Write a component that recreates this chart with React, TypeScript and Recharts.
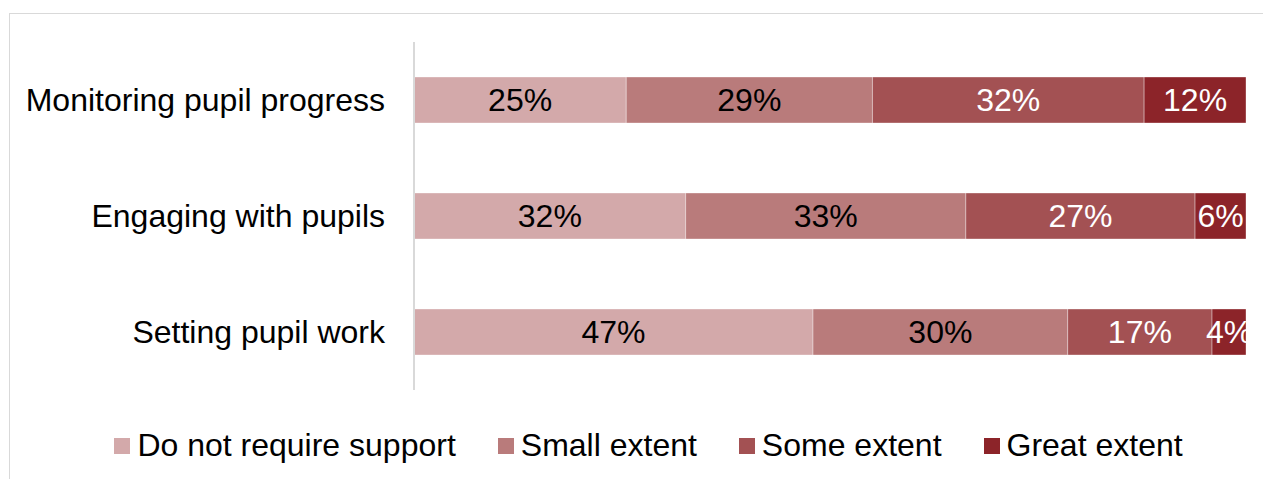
import React from "react";
import { BarChart, Bar, XAxis, YAxis, LabelList } from "recharts";

const categories = ["Monitoring pupil progress", "Engaging with pupils", "Setting pupil work"];
const doNotRequire = [25, 32, 47];
const smallExtent = [29, 33, 30];
const someExtent = [32, 27, 17];
const greatExtent = [12, 6, 4];

const series = [
  { key: "none", name: "Do not require support", color: "#D3A9AA", text: "#000000", values: doNotRequire },
  { key: "small", name: "Small extent", color: "#B97B7B", text: "#000000", values: smallExtent },
  { key: "some", name: "Some extent", color: "#A35153", text: "#FFFFFF", values: someExtent },
  { key: "great", name: "Great extent", color: "#8C2429", text: "#FFFFFF", values: greatExtent },
];

const data = categories.map((name, i) => {
  const row: Record<string, string | number> = { name };
  series.forEach((s) => (row[s.key] = s.values[i]));
  return row;
});

const FONT = "'Liberation Sans', Arial, sans-serif";

function LegendBox() {
  return (
    <div style={{ display: "flex", justifyContent: "center", alignItems: "center", fontFamily: FONT, fontSize: 32, color: "#000", paddingLeft: 34 }}>
      {series.map((s) => (
        <div key={s.key} style={{ display: "flex", alignItems: "center", margin: "0 21px" }}>
          <span style={{ width: 16, height: 16, background: s.color, display: "inline-block", marginRight: 7 }} />
          <span>{s.name}</span>
        </div>
      ))}
    </div>
  );
}

export default function App() {
  return (
    <div style={{ position: "absolute", left: 0, top: 0, width: 1263, height: 479, overflow: "hidden", background: "#fff" }}>
      <div style={{ position: "absolute", left: 9, top: 13, width: 1400, height: 600, border: "1px solid #d9d9d9" }} />
      <div style={{ position: "absolute", left: 0, top: 0 }}>
        <BarChart
          width={1263}
          height={479}
          data={data}
          layout="vertical"
          margin={{ top: 42, right: 17, bottom: 89, left: 0 }}
          barSize={46}
        >
          <XAxis type="number" hide domain={[0, 98]} />
          <YAxis
            type="category"
            dataKey="name"
            width={414}
            tickLine={false}
            tickSize={0}
            tickMargin={29}
            axisLine={{ stroke: "#d9d9d9", strokeWidth: 2 }}
            tick={{ fill: "#000", fontSize: 32, fontFamily: FONT }}
          />
          {series.map((s) => (
            <Bar key={s.key} dataKey={s.key} name={s.name} stackId="a" fill={s.color} stroke="rgba(255,255,255,0.35)" strokeWidth={1} isAnimationActive={false}>
              <LabelList
                dataKey={s.key}
                position="center"
                formatter={(v: number) => `${v}%`}
                style={{ fill: s.text, fontSize: 32, fontFamily: FONT }}
              />
            </Bar>
          ))}
        </BarChart>
      </div>
      <div style={{ position: "absolute", left: 0, top: 427, width: 1263 }}>
        <LegendBox />
      </div>
    </div>
  );
}
